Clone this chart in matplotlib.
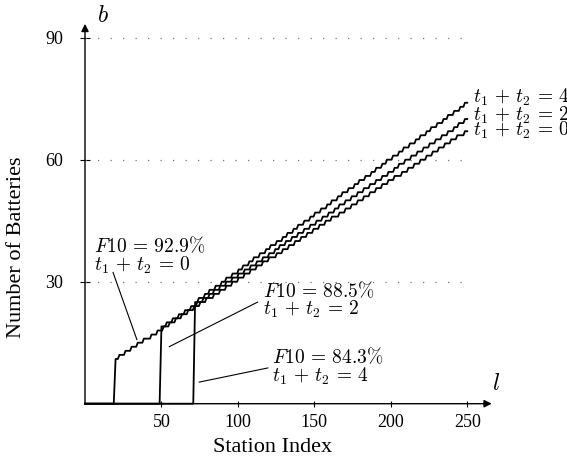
import matplotlib
matplotlib.use("Agg")
import matplotlib.pyplot as plt

# station where each curve jumps up from zero, and its battery count there
jump_station = [20, 50, 72]
jump_batteries = [11, 19, 25]
t_sum = [0, 2, 4]
f10 = ["92.9", "88.5", "84.3"]
last_station = 250

steps_t0 = [22, 26, 30, 34, 38, 43, 47, 51, 55, 59, 63, 67, 71, 75, 79, 84, 88, 92, 96, 100,
            104, 108, 112, 116, 120, 125, 129, 133, 137, 141, 145, 149, 153, 157, 161, 166,
            170, 174, 178, 182, 186, 190, 194, 198, 202, 207, 211, 215, 219, 223, 227, 231,
            235, 239, 243, 248]
steps_t2 = [53, 57, 61, 65, 69, 73, 77, 81, 84, 88, 92, 96, 100, 104, 108, 112, 116, 120, 124,
            127, 131, 135, 139, 143, 147, 151, 155, 159, 163, 166, 170, 174, 178, 182, 186, 190,
            194, 198, 202, 205, 209, 213, 217, 221, 225, 229, 233, 237, 241, 244, 248]
steps_t4 = [74, 78, 81, 85, 89, 92, 96, 100, 103, 107, 110, 114, 118, 121, 125, 129, 132, 136,
            139, 143, 147, 150, 154, 158, 161, 165, 168, 172, 176, 179, 183, 187, 190, 194, 197,
            201, 205, 208, 212, 216, 219, 223, 226, 230, 234, 237, 241, 245, 248]
all_steps = [steps_t0, steps_t2, steps_t4]

x_ticks = [50, 100, 150, 200, 250]
y_ticks = [30, 60, 90]

plt.rcParams["mathtext.fontset"] = "cm"
plt.rcParams["font.family"] = ["Liberation Serif", "DejaVu Serif"]


def staircase(jump, start, steps, end):
    xs = [0, jump - 1.2, jump]
    ys = [0, 0, start]
    b = start
    for s in steps:
        xs += [s - 0.5, s + 0.5]
        ys += [b, b + 1]
        b += 1
    xs.append(end)
    ys.append(b)
    return xs, ys


def tsum_label(k):
    return r"$t_1 \,+\, t_2 \,=\, %d$" % k


W, H = 567, 462
fig = plt.figure(figsize=(W / 100, H / 100), dpi=100)
x0, y0 = 85, 403.7
xmax, ymax = 266, 93.4
px_x, px_y = 1.529, 4.067
ax = fig.add_axes([x0 / W, (H - y0) / H, xmax * px_x / W, ymax * px_y / H])
ax.set_xlim(0, xmax)
ax.set_ylim(0, ymax)
for s in ax.spines.values():
    s.set_visible(False)

# dotted guide lines
ax.hlines(y_ticks, 0, last_station, colors="0.45", linewidth=0.9, linestyles=(0, (1, 9)))

# axes with arrow heads
for tip in [(1, 0), (0, 1)]:
    ax.annotate("", xy=tip, xytext=(0, 0), xycoords="axes fraction",
                arrowprops=dict(arrowstyle="-|>", lw=1.0, color="k", mutation_scale=11,
                                shrinkA=0, shrinkB=0), annotation_clip=False)

label_shift = [0.3, 1.0, 1.3]
for i in range(3):
    xs, ys = staircase(jump_station[i], jump_batteries[i], all_steps[i], last_station)
    ax.plot(xs, ys, color="k", lw=1.3, clip_on=False)
    ax.text(253.5, ys[-1] + label_shift[i], tsum_label(t_sum[i]), fontsize=14,
            va="center", ha="left")

# F10 annotations
text_pos = [(5.9, 41.2), (116.4, 30.2), (122.6, 13.9)]
leader_from = [(18.3, 32.3), (113, 25), (119.7, 8.8)]
leader_to = [(34, 15.7), (55, 14), (74.6, 5.3)]
for i in range(3):
    ax.text(text_pos[i][0], text_pos[i][1],
            "$F10 \\,=\\, %s\\%%$\n" % f10[i] + tsum_label(t_sum[i]),
            fontsize=14, va="top", ha="left", linespacing=0.85)
    ax.annotate("", xy=leader_to[i], xytext=leader_from[i],
                arrowprops=dict(arrowstyle="-", lw=0.8, color="k", shrinkA=0, shrinkB=0))

ax.set_xticks(x_ticks)
ax.set_yticks(y_ticks)
ax.tick_params(axis="x", direction="inout", length=5, width=0.8, pad=5, labelsize=13)
ax.tick_params(axis="y", direction="inout", length=7, width=0.8, pad=12, labelsize=13)

fig.text(273 / W, 1 - 448 / H, "Station Index", fontsize=16, ha="center", va="center")
fig.text(17 / W, 1 - 247 / H, "Number of Batteries", fontsize=16, ha="center", va="center",
         rotation=90)
fig.text(103 / W, 1 - 16 / H, "$b$", fontsize=17, ha="center", va="center")
fig.text(496 / W, 1 - 385 / H, "$l$", fontsize=17, ha="center", va="center")

fig.savefig("out.png", dpi=100)
